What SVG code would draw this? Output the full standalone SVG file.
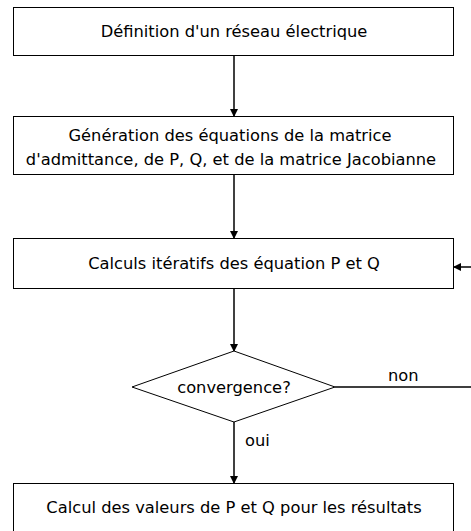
<svg xmlns="http://www.w3.org/2000/svg" width="471" height="531" viewBox="0 0 471 531">
<defs>
<style>
.box{fill:#fff;stroke:#000;stroke-width:1}
.t{font-family:"DejaVu Sans",sans-serif;font-size:16.3px;fill:#000;text-anchor:middle}
.l{font-family:"DejaVu Sans",sans-serif;font-size:16.3px;fill:#000}
.c{fill:none;stroke:#000;stroke-width:1.5}
</style>
<marker id="ah" markerWidth="8" markerHeight="8" refX="7" refY="4" orient="auto" markerUnits="userSpaceOnUse">
<path d="M0,0 L8,4 L0,8 z" fill="#000"/>
</marker>
</defs>
<rect width="471" height="531" fill="#fff"/>
<g id="connectors">
<line class="c" x1="234" y1="55" x2="234" y2="116" marker-end="url(#ah)"/>
<line class="c" x1="234" y1="174" x2="234" y2="238" marker-end="url(#ah)"/>
<line class="c" x1="234" y1="288" x2="234" y2="351" marker-end="url(#ah)"/>
<line class="c" x1="234" y1="422" x2="234" y2="483" marker-end="url(#ah)"/>
<path class="c" d="M335,387 H480 V267 H454" marker-end="url(#ah)"/>
<text class="l" x="388" y="381">non</text>
<text class="l" x="245" y="446">oui</text>
</g>
<g id="n1">
<rect class="box" x="13.5" y="7.5" width="440" height="48"/>
<text class="t" x="234" y="37">Définition d'un réseau électrique</text>
</g>
<g id="n2">
<rect class="box" x="13.5" y="116.5" width="440" height="58"/>
<text class="t" x="230" y="141">Génération des équations de la matrice</text>
<text class="t" x="231" y="165">d'admittance, de P, Q, et de la matrice Jacobianne</text>
</g>
<g id="n3">
<rect class="box" x="13.5" y="238.5" width="440" height="50"/>
<text class="t" x="234" y="269">Calculs itératifs des équation P et Q</text>
</g>
<g id="n4">
<polygon class="box" points="234,351 335,387 234,422 132,387"/>
<text class="t" x="234" y="393">convergence?</text>
</g>
<g id="n5">
<rect class="box" x="13.5" y="483.5" width="440" height="60"/>
<text class="t" x="234" y="513">Calcul des valeurs de P et Q pour les résultats</text>
</g>
</svg>
